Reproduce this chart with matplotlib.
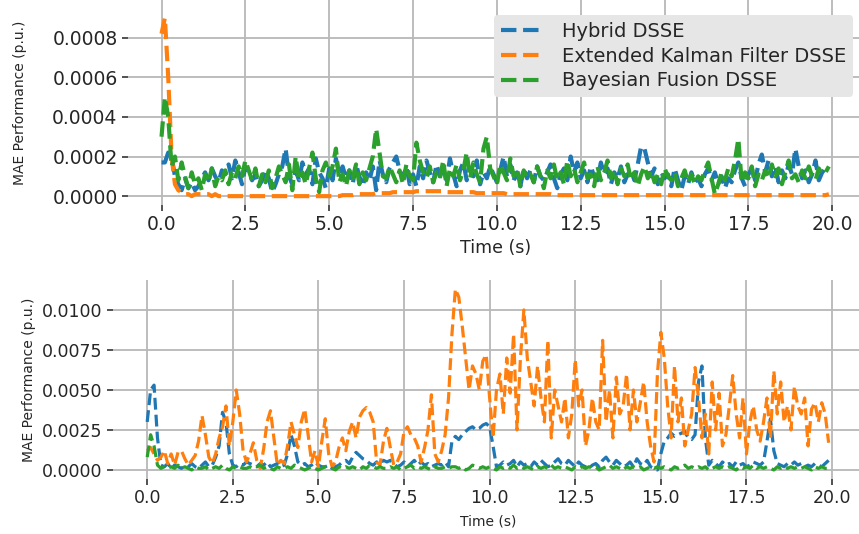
import numpy as np
import matplotlib
matplotlib.use("Agg")
from matplotlib import pyplot as plt

# time axis, 0.1 s steps
time = np.arange(200) / 10.0

# top panel, units of 1e-5 p.u.
top_hybrid = [
    17, 17, 22, 20, 10, 6, 3, 9, 4, 7,
    3, 5, 9, 12, 8, 14, 10, 7, 13, 11,
    16, 9, 18, 12, 6, 15, 12, 8, 11, 5,
    8, 13, 9, 2, 6, 11, 15, 24, 10, 6,
    13, 8, 17, 11, 14, 6, 19, 12, 9, 4,
    14, 8, 19, 11, 15, 9, 13, 6, 16, 10,
    5, 12, 8, 15, 3, 18, 11, 7, 14, 17,
    20, 13, 9, 15, 6, 11, 5, 15, 9, 18,
    12, 7, 16, 10, 14, 8, 19, 11, 5, 13,
    17, 8, 14, 10, 18, 6, 12, 9, 15, 11,
    7, 13, 20, 10, 16, 8, 12, 5, 14, 9,
    13, 7, 15, 10, 8, 12, 16, 9, 4, 11,
    14, 8, 20, 12, 17, 9, 13, 7, 15, 10,
    8, 17, 11, 14, 6, 12, 9, 15, 7, 11,
    13, 8, 16, 25, 24, 17, 10, 14, 6, 12,
    9, 11, 5, 14, 8, 3, 10, 6, 12, 7,
    9, 5, 11, 14, 8, 12, 6, 10, 4, 9,
    7, 13, 17, 9, 5, 11, 14, 8, 16, 21,
    12, 18, 10, 15, 7, 13, 9, 16, 11, 24,
    15, 9, 13, 7, 11, 18, 8, 12, 14, 15,
]
top_ekf = [
    82, 90, 60, 20, 6, 3, 2, 1, 1, 0,
    1, 1, 1, 1, 1, 0, 1, 0, 0, 0,
    0, 0, 0, 0, 0, 0, 0, 0, 0, 0,
    0, 0, 0, 0, 0, 0, 0, 0, 0, 0,
    0, 0, 0, 0, 0, 0, 0, 0, 0, 0,
    0, 0, 0, 0, 0.5, 0.5, 0.5, 0.5, 1, 1,
    1, 1, 1, 1, 1.5, 1.5, 1.5, 1.5, 1.5, 2,
    2, 2, 2, 2, 2, 2, 2.5, 2.5, 2.5, 2.5,
    2.5, 2.5, 2.5, 2.5, 2.5, 2, 2, 2, 2, 2,
    2, 2, 2, 2, 1.5, 1.5, 1.5, 1.5, 1.5, 1.5,
    1.5, 1.5, 1.5, 1, 1, 1, 1, 1, 1, 1,
    1, 1, 1, 1, 1, 1, 1, 0.5, 0.5, 0.5,
    0.5, 0.5, 0.5, 0.5, 0.5, 0.5, 0.5, 0.5, 0.5, 0.5,
    0.5, 0.5, 0.5, 0.5, 0.5, 0.5, 0.5, 0.5, 0.5, 0.5,
    0.5, 0.5, 0.5, 0.5, 0.5, 0.5, 0.5, 0.5, 0.5, 0.5,
    0.5, 0.5, 0.5, 0.5, 0.5, 0.5, 0.5, 0.5, 0.5, 0.5,
    0.5, 0.5, 0.5, 0.5, 0.5, 0.5, 0.5, 0.5, 0.5, 0.5,
    0.5, 0.5, 0.5, 0.5, 0.5, 0.5, 0.5, 0.5, 0.5, 0.5,
    0.5, 0.5, 0.5, 0.5, 0.5, 0.5, 0.5, 0.5, 0.5, 0.5,
    0.5, 0.5, 0.5, 0.5, 0.5, 0.5, 0.5, 0.5, 0.5, 1,
]
top_bayes = [
    30, 50, 40, 15, 20, 8, 17, 10, 4, 12,
    6, 9, 3, 11, 7, 14, 5, 10, 8, 13,
    6, 12, 9, 15, 10, 18, 13, 8, 14, 5,
    11, 7, 13, 4, 9, 15, 11, 7, 16, 3,
    20, 8, 12, 6, 14, 22, 9, 2, 13, 17,
    10, 15, 24, 7, 11, 5, 13, 9, 16, 6,
    12, 8, 14, 20, 34, 22, 10, 9, 15, 11,
    7, 13, 6, 16, 10, 8, 27, 18, 12, 9,
    15, 7, 12, 9, 18, 5, 14, 10, 16, 8,
    13, 22, 9, 17, 11, 7, 24, 30, 14, 10,
    6, 16, 12, 8, 19, 10, 14, 5, 13, 9,
    11, 7, 15, 10, 4, 13, 9, 16, 8, 12,
    6, 18, 10, 14, 7, 12, 17, 9, 11, 5,
    15, 8, 12, 18, 9, 13, 6, 14, 10, 16,
    8, 12, 5, 11, 15, 9, 13, 7, 11, 6,
    14, 10, 8, 12, 5, 9, 13, 7, 11, 6,
    10, 8, 13, 17, 9, 1, 6, 12, 8, 14,
    10, 18, 29, 7, 12, 9, 15, 5, 11, 8,
    13, 9, 16, 10, 14, 6, 12, 18, 9, 11,
    7, 13, 9, 15, 10, 8, 14, 11, 12, 15,
]

# bottom panel, units of 1e-4 p.u.
bot_hybrid = [
    30, 50, 53, 20, 3, 2, 4, 1, 3, 2,
    1, 3, 2, 4, 2, 1, 3, 5, 2, 3,
    8, 15, 36, 30, 10, 3, 2, 4, 3, 5,
    4, 3, 2, 4, 3, 5, 2, 3, 4, 2,
    3, 10, 22, 15, 5, 3, 4, 2, 3, 5,
    3, 2, 2, 3, 1, 2, 3, 5, 6, 4,
    8, 11, 9, 7, 6, 4, 3, 5, 4, 6,
    5, 6, 4, 2, 3, 5, 2, 4, 6, 3,
    5, 3, 4, 2, 3, 4, 3, 5, 2, 18,
    21, 19, 22, 24, 26, 27, 25, 26, 28, 29,
    27, 15, 2, 3, 5, 3, 4, 6, 2, 5,
    3, 4, 2, 5, 3, 6, 4, 2, 3, 5,
    7, 4, 3, 6, 4, 2, 5, 3, 2, 1,
    3, 4, 2, 6, 8, 5, 3, 6, 4, 2,
    3, 5, 2, 7, 4, 3, 6, 2, 1, 0,
    10, 18, 20, 23, 21, 22, 23, 24, 20, 19,
    22, 55, 65, 20, 3, 6, 4, 2, 5, 3,
    4, 2, 5, 3, 4, 2, 3, 5, 4, 3,
    5, 18, 32, 12, 4, 3, 2, 4, 3, 5,
    3, 4, 2, 3, 2, 4, 3, 2, 4, 6,
]
bot_ekf = [
    12, 14, 10, 6, 8, 12, 4, 10, 3, 11,
    12, 7, 3, 6, 9, 18, 34, 22, 8, 4,
    10, 20, 27, 40, 15, 30, 50, 35, 12, 5,
    10, 17, 6, 1, 13, 30, 37, 20, 3, 6,
    4, 15, 30, 22, 14, 30, 38, 22, 5, 12,
    2, 18, 32, 10, 2, 5, 14, 20, 12, 24,
    30, 20, 33, 37, 39, 36, 30, 5, 3, 18,
    26, 14, 3, 5, 10, 24, 27, 22, 20, 15,
    5, 14, 25, 47, 10, 5, 12, 22, 45, 85,
    113, 108, 90, 70, 50, 65, 60, 50, 68, 72,
    45, 20, 50, 60, 35, 70, 48, 85, 25, 70,
    100, 70, 55, 40, 65, 45, 30, 81, 20, 50,
    40, 30, 45, 20, 35, 69, 40, 50, 15, 25,
    45, 30, 25, 81, 30, 50, 20, 58, 35, 40,
    60, 25, 50, 30, 42, 55, 30, 15, 5, 60,
    86, 70, 40, 20, 65, 30, 45, 15, 25, 35,
    64, 45, 20, 35, 10, 55, 25, 48, 15, 22,
    40, 59, 35, 20, 45, 10, 30, 40, 25, 18,
    30, 45, 20, 62, 35, 55, 30, 40, 25, 52,
    40, 35, 45, 15, 38, 42, 30, 42, 35, 17,
]
bot_bayes = [
    8, 22, 15, 3, 1, 2, 1, 2, 1, 3,
    1, 2, 1, 0, 2, 1, 1, 2, 0, 1,
    2, 1, 3, 1, 0, 2, 1, 2, 1, 1,
    2, 1, 2, 3, 1, 2, 1, 0, 2, 1,
    1, 2, 1, 3, 2, 1, 0, 1, 2, 1,
    0, 1, 2, 1, 1, 0, 2, 1, 2, 1,
    2, 1, 0, 2, 1, 3, 2, 1, 2, 1,
    1, 2, 1, 2, 0, 1, 2, 3, 1, 2,
    1, 2, 1, 0, 2, 1, 1, 2, 1, 2,
    2, 1, 2, 0, 1, 3, 2, 1, 2, 1,
    2, 1, 0, 2, 1, 2, 1, 3, 1, 2,
    1, 2, 1, 0, 2, 1, 2, 1, 3, 1,
    2, 1, 2, 1, 0, 2, 1, 2, 1, 2,
    1, 2, 0, 1, 2, 3, 1, 2, 1, 0,
    2, 1, 2, 1, 2, 0, 1, 2, 1, 2,
    1, 2, 1, 0, 2, 1, 2, 3, 1, 2,
    1, 2, 1, 2, 0, 1, 2, 1, 2, 1,
    2, 1, 0, 2, 1, 2, 1, 3, 1, 2,
    1, 2, 1, 0, 2, 1, 2, 1, 2, 1,
    2, 1, 2, 1, 0, 2, 1, 2, 1, 1,
]

labels = ['Hybrid DSSE', 'Extended Kalman Filter DSSE', 'Bayesian Fusion DSSE']
colors = ['#1f77b4', '#ff7f0e', '#2ca02c']
xticks = [0.0, 2.5, 5.0, 7.5, 10.0, 12.5, 15.0, 17.5, 20.0]

plt.rcParams['font.family'] = 'DejaVu Sans'
plt.rcParams['text.color'] = '#262626'
plt.rcParams['axes.labelcolor'] = '#262626'
plt.rcParams['xtick.color'] = '#333333'
plt.rcParams['ytick.color'] = '#333333'
plt.rcParams['xtick.labelcolor'] = '#262626'
plt.rcParams['ytick.labelcolor'] = '#262626'

fig = plt.figure(figsize=(8.59, 5.34), dpi=100)
ax1 = fig.add_axes([0.149, 0.616, 0.855, 0.384])
ax2 = fig.add_axes([0.1315, 0.103, 0.873, 0.3725])


def style(ax, tick_size):
    for s in ax.spines.values():
        s.set_visible(False)
    ax.grid(True, color='#b8b8b8', linewidth=1.3)
    ax.set_axisbelow(True)
    ax.tick_params(length=4, width=1.2, labelsize=tick_size)
    ax.set_xticks(xticks)
    ax.set_xlim(-1.0, 20.9)


series_top = [top_hybrid, top_ekf, top_bayes]
for vals, lab, c in zip(series_top, labels, colors):
    ax1.plot(time, np.array(vals) * 1e-5, '--', color=c, lw=3.0, label=lab)
style(ax1, 13.5)
ax1.set_ylim(-0.000045, 0.00099)
ax1.set_yticks([0.0, 0.0002, 0.0004, 0.0006, 0.0008])
ax1.set_yticklabels(['0.0000', '0.0002', '0.0004', '0.0006', '0.0008'])
ax1.set_xticklabels([f'{v:.1f}' for v in xticks])
ax1.set_xlabel('Time (s)', fontsize=12.5, labelpad=3)
ax1.set_ylabel('MAE Performance (p.u.)', fontsize=10, labelpad=18)
leg = ax1.legend(loc='upper right', bbox_to_anchor=(853 / 859, 1 - 15 / 534),
                 bbox_transform=fig.transFigure, fontsize=14,
                 frameon=True, facecolor='#e6e6e6', edgecolor='none', framealpha=1.0,
                 handlelength=2.05, handletextpad=1.1, borderpad=0.35, labelspacing=0.3,
                 borderaxespad=0.0)

series_bot = [bot_hybrid, bot_ekf, bot_bayes]
for vals, lab, c in zip(series_bot, labels, colors):
    ax2.plot(time, np.array(vals) * 1e-4, '--', color=c, lw=2.3, label=lab)
style(ax2, 12.5)
ax2.set_ylim(-0.000565, 0.011865)
ax2.set_yticks([0.0, 0.0025, 0.005, 0.0075, 0.01])
ax2.set_yticklabels(['0.0000', '0.0025', '0.0050', '0.0075', '0.0100'])
ax2.set_xticklabels([f'{v:.1f}' for v in xticks])
ax2.set_xlabel('Time (s)', fontsize=10, labelpad=5)
ax2.set_ylabel('MAE Performance (p.u.)', fontsize=10, labelpad=4)

fig.savefig('out.png', dpi=100)
